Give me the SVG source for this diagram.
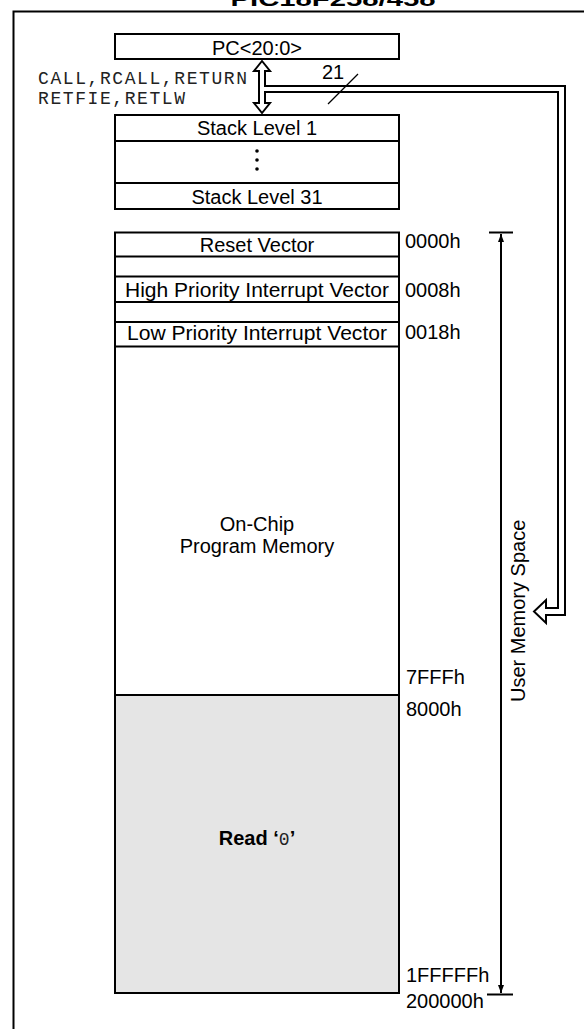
<svg xmlns="http://www.w3.org/2000/svg" width="584" height="1029" viewBox="0 0 584 1029">
<style>
.box{fill:#fff;stroke:#000;stroke-width:2}
.ln{fill:none;stroke:#000;stroke-width:2}
.t{font-family:"Liberation Sans",Arial,Helvetica,sans-serif;font-size:20px;fill:#000}
.c{text-anchor:middle}
.m{font-family:"Liberation Mono","Courier New",monospace;font-size:18px;fill:#222}
</style>
<defs>
<marker id="ah" viewBox="0 0 8 10" refX="8" refY="5" markerWidth="8" markerHeight="10" markerUnits="userSpaceOnUse" orient="auto">
<path d="M0,2 L8,5 L0,8 Z" fill="#000"/>
</marker>
</defs>
<rect width="584" height="1029" fill="#fff"/>
<g id="title">
<text class="t c" x="333" y="6" font-weight="bold" font-size="24" textLength="205" lengthAdjust="spacingAndGlyphs">PIC18F258/458</text>
</g>
<g id="frame">
<path class="ln" d="M13.5,1029 V11.5 H584"/>
</g>
<g id="pc">
<rect class="box" x="115" y="34" width="284" height="25"/>
<text class="t c" x="257" y="55">PC&lt;20:0&gt;</text>
</g>
<g id="instr">
<text class="m" x="38" y="84" textLength="209" lengthAdjust="spacing">CALL,RCALL,RETURN</text>
<text class="m" x="38" y="104" textLength="147" lengthAdjust="spacing">RETFIE,RETLW</text>
</g>
<g id="stack">
<rect class="box" x="115" y="115" width="284" height="94"/>
<line class="ln" x1="115" y1="141" x2="399" y2="141"/>
<line class="ln" x1="115" y1="183" x2="399" y2="183"/>
<text class="t c" x="257" y="135">Stack Level 1</text>
<circle cx="257" cy="151" r="1.8"/>
<circle cx="257" cy="160" r="1.8"/>
<circle cx="257" cy="169" r="1.8"/>
<text class="t c" x="257" y="204">Stack Level 31</text>
</g>
<g id="memory">
<rect class="box" x="115" y="232.5" width="284" height="760.5"/>
<rect x="115" y="695" width="284" height="298" fill="#e5e5e5" stroke="#000" stroke-width="2"/>
<line class="ln" x1="115" y1="256.5" x2="399" y2="256.5"/>
<line class="ln" x1="115" y1="276.5" x2="399" y2="276.5"/>
<line class="ln" x1="115" y1="302" x2="399" y2="302"/>
<line class="ln" x1="115" y1="322" x2="399" y2="322"/>
<line class="ln" x1="115" y1="346.5" x2="399" y2="346.5"/>
<text class="t c" x="257" y="252">Reset Vector</text>
<text class="t c" x="257" y="297" textLength="264" lengthAdjust="spacingAndGlyphs">High Priority Interrupt Vector</text>
<text class="t c" x="257" y="340" textLength="260" lengthAdjust="spacingAndGlyphs">Low Priority Interrupt Vector</text>
<text class="t c" x="257" y="531">On-Chip</text>
<text class="t c" x="257" y="553">Program Memory</text>
<text class="t c" x="257" y="845"><tspan font-weight="bold">Read ‘</tspan><tspan class="m" fill="#000">0</tspan><tspan font-weight="bold">’</tspan></text>
</g>
<g id="addresses">
<text class="t" x="405" y="248">0000h</text>
<text class="t" x="405" y="297">0008h</text>
<text class="t" x="405" y="339">0018h</text>
<text class="t" x="406" y="684">7FFFh</text>
<text class="t" x="406" y="716">8000h</text>
<text class="t" x="406" y="982">1FFFFFh</text>
<text class="t" x="406" y="1008">200000h</text>
</g>
<g id="connectors">
<path class="box" stroke-linejoin="miter" d="M262,61 L270,71 L265,71 L265,86 L565,86 L565,615 L546,615 L546,623 L534,611.5 L546,600 L546,608 L558,608 L558,92 L265,92 L265,103 L270,103 L262,113 L254,103 L259,103 L259,71 L254,71 Z"/>
<text class="t" x="322" y="79">21</text>
<line x1="328" y1="104" x2="358" y2="74" stroke="#000" stroke-width="1.2"/>
<line x1="489" y1="232.5" x2="513" y2="232.5" stroke="#000" stroke-width="2"/>
<line x1="487" y1="994.5" x2="513" y2="994.5" stroke="#000" stroke-width="2"/>
<line x1="501" y1="613" x2="501" y2="234" stroke="#000" stroke-width="2" marker-end="url(#ah)"/>
<line x1="501" y1="613" x2="501" y2="993" stroke="#000" stroke-width="2" marker-end="url(#ah)"/>
<text class="t" font-size="18" x="525" y="702" transform="rotate(-90 525 702)">User Memory Space</text>
</g>
</svg>
